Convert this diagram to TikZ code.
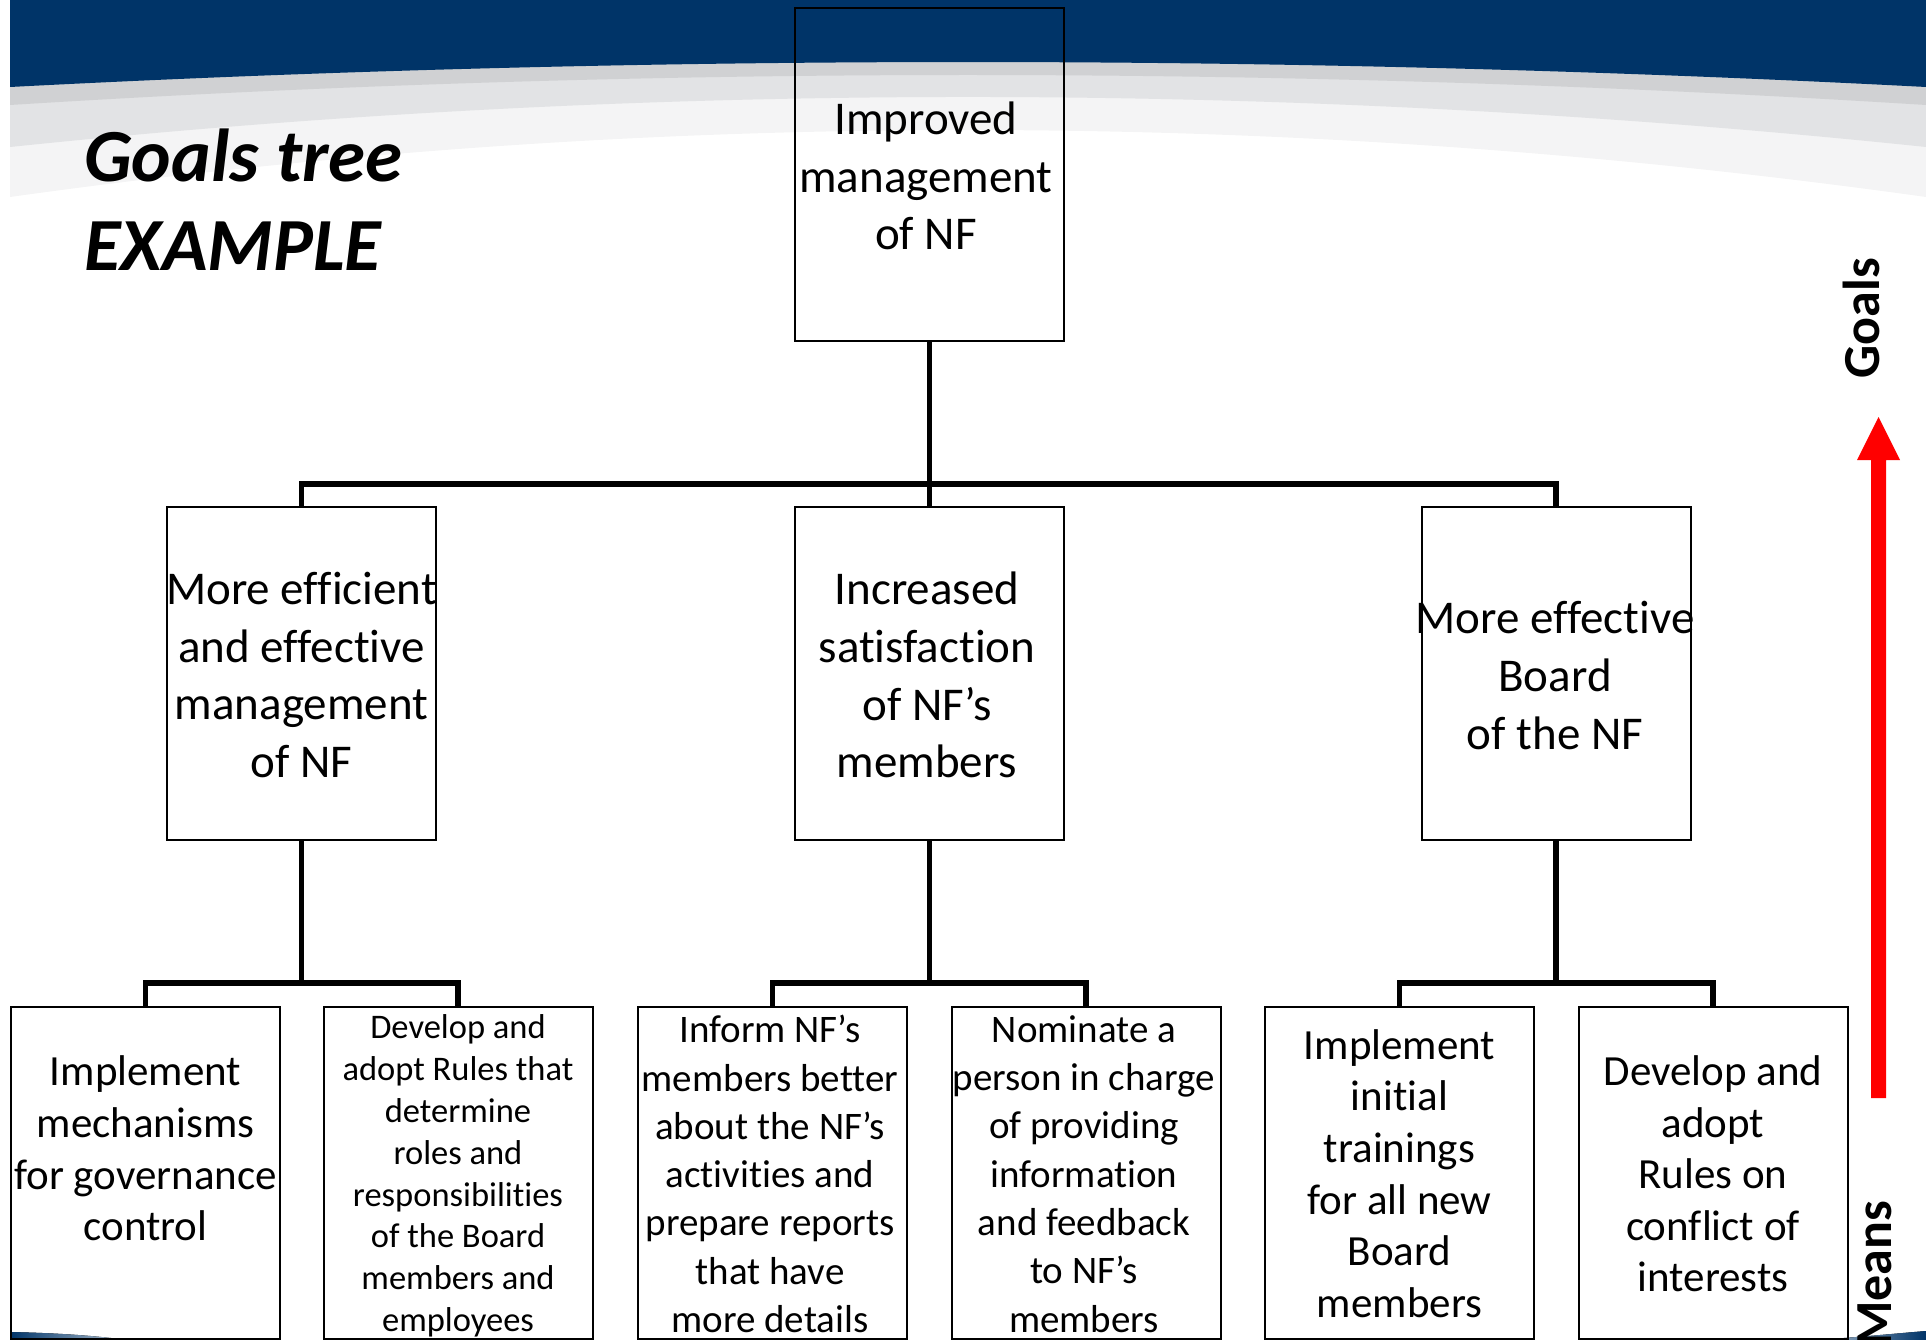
\documentclass[tikz,border=0pt]{standalone}
\usepackage{fontspec}
\setmainfont[Ligatures=NoCommon]{Carlito}
\definecolor{banner}{RGB}{0,52,104}
\definecolor{gA}{RGB}{208,209,211}
\definecolor{gB}{RGB}{226,227,229}
\definecolor{gC}{RGB}{244,244,245}
\begin{document}
\begin{tikzpicture}[x=1pt,y=-1pt,
  box/.style={draw=black,line width=2pt,minimum width=269pt,minimum height=333pt,inner sep=0pt},
  lowbox/.style={box,minimum height=332pt},
  conn/.style={draw=black,line width=5.5pt},
  tl/.style={align=center,inner sep=0pt,font=\fontsize{47}{57.7}\selectfont},
  tm/.style={align=center,inner sep=0pt,font=\fontsize{43}{51.6}\selectfont},
  ts/.style={align=center,inner sep=0pt,font=\fontsize{39}{48.3}\selectfont},
  tx/.style={align=center,inner sep=0pt,font=\fontsize{34.5}{41.8}\selectfont},
  titletext/.style={anchor=base west,inner sep=0pt,font=\fontsize{75}{90}\selectfont\bfseries\itshape},
  side/.style={inner sep=0pt,rotate=90,font=\fontsize{52}{60}\selectfont\bfseries}]
\useasboundingbox (0,0) rectangle (1926,1340);
\clip (0,0) rectangle (1926,1340);
% banner
\fill[gC] (10,0) -- (10,197) .. controls (649,107.7) and (1287,107.7) .. (1926,197) -- (1926,0) -- cycle;
\fill[gB] (10,0) -- (10,147) .. controls (649,80.3) and (1287,80.3) .. (1926,147) -- (1926,0) -- cycle;
\fill[gA] (10,0) -- (10,105) .. controls (649,65) and (1287,65) .. (1926,105) -- (1926,0) -- cycle;
\fill[banner] (10,0) -- (10,87) .. controls (649,53.7) and (1287,53.7) .. (1926,87) -- (1926,0) -- cycle;
% bottom swooshes
\fill[left color=banner,right color=banner!25] (10,1341) -- (10,1332) .. controls (60,1333) and (100,1336) .. (135,1341) -- cycle;
\fill[left color=banner!25,right color=banner] (1800,1341) .. controls (1850,1338) and (1890,1334) .. (1926,1331) -- (1926,1341) -- cycle;
% title
\node[titletext] (title1) at (84,182) {Goals tree};
\node[titletext] (title2) at (84,270) {EXAMPLE};
% boxes
\node[box] (top) at (929.5,174.5) {};
\node[box] (m1) at (301.5,673.5) {};
\node[box] (m2) at (929.5,673.5) {};
\node[box] (m3) at (1556,673.5) {};
\node[lowbox] (b1) at (145.5,1173) {};
\node[lowbox] (b2) at (458,1173) {};
\node[lowbox] (b3) at (772.5,1173) {};
\node[lowbox] (b4) at (1086,1173) {};
\node[lowbox] (b5) at (1399.5,1173) {};
\node[lowbox] (b6) at (1713,1173) {};
% texts
\node[tl] (ttop) at (926,176) {Improved\\management\\of NF};
\node[tl] (tm1) at (301.5,675) {More efficient\\and effective\\management\\of NF};
\node[tl] (tm2) at (927,675) {Increased\\satisfaction\\of NF’s\\members};
\node[tl] (tm3) at (1555,675.5) {More effective\\Board\\of the NF};
\node[tm] (tb1) at (145.5,1148.5) {Implement\\mechanisms\\for governance\\control};
\node[tx] (tb2) at (458,1176) {Develop and\\adopt Rules that\\determine\\roles and\\responsibilities\\of the Board\\members and\\employees};
\node[ts] (tb3) at (770,1174) {Inform NF’s\\members better\\about the NF’s\\activities and\\prepare reports\\that have\\more details};
\node[ts] (tb4) at (1084,1174) {Nominate a\\person in charge\\of providing\\information\\and feedback\\to NF’s\\members};
\node[tm] (tb5) at (1399.5,1173.6) {Implement\\initial\\trainings\\for all new\\Board\\members};
\node[tm] (tb6) at (1713,1174) {Develop and\\adopt\\Rules on\\conflict of\\interests};
% connectors
\coordinate (ya) at (0,484);
\coordinate (yb) at (0,983);
\draw[conn] (top.south) -- (m2.north);
\draw[conn] (m1.north) |- (top.south |- ya) -| (m3.north);
\draw[conn] (m1.south) -- (m1.south |- yb);
\draw[conn] (b1.north) |- (m1.south |- yb) -| (b2.north);
\draw[conn] (m2.south) -- (m2.south |- yb);
\draw[conn] (b3.north) |- (m2.south |- yb) -| (b4.north);
\draw[conn] (m3.south) -- (m3.south |- yb);
\draw[conn] (b5.north) |- (m3.south |- yb) -| (b6.north);
% red arrow
\fill[red] (1871,1098) -- (1871,460) -- (1857,460) -- (1878.5,417) -- (1900,460) -- (1886,460) -- (1886,1098) -- cycle;
\node[side] (goals) at (1861,318) {Goals};
\node[side] (means) at (1874.5,1274) {Means};
\end{tikzpicture}
\end{document}
